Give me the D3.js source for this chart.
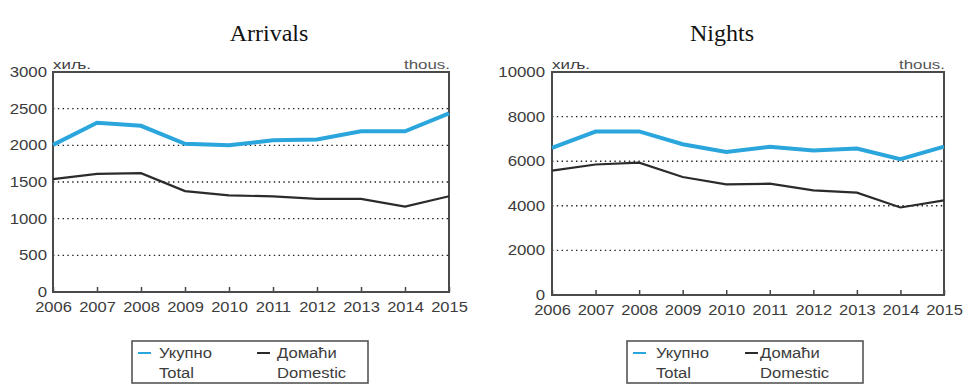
<!DOCTYPE html>
<html>
<head>
<meta charset="utf-8">
<script src="https://cdn.jsdelivr.net/npm/d3@7"></script>
<style>
  html, body { margin: 0; padding: 0; background: #fff; }
  svg { display: block; }
</style>
</head>
<body>
<svg id="chart" width="968" height="385"></svg>
<script>
// Tourist arrivals and overnight stays, thousands
const years = [2006, 2007, 2008, 2009, 2010, 2011, 2012, 2013, 2014, 2015];

const arrivalsTotal    = [2006, 2307, 2266, 2021, 2001, 2069, 2080, 2192, 2192, 2437];
const arrivalsDomestic = [1538, 1611, 1620, 1376, 1318, 1304, 1270, 1271, 1164, 1305];

const nightsTotal      = [6593, 7329, 7334, 6762, 6414, 6645, 6485, 6567, 6086, 6652];
const nightsDomestic   = [5577, 5853, 5935, 5293, 4961, 4990, 4689, 4587, 3925, 4242];

const arrivalsTicks = [0, 500, 1000, 1500, 2000, 2500, 3000];
const nightsTicks   = [0, 2000, 4000, 6000, 8000, 10000];

const titles = ["Arrivals", "Nights"];
const unitLeft = "хиљ.";
const unitRight = "thous.";
const legendNames = [["Укупно", "Total"], ["Домаћи", "Domestic"]];

const totalColor = "#2ba6dd";
const domesticColor = "#2b2b2b";
const textColor = "#3c3c3c";
const sans = "'Liberation Sans', Arial, sans-serif";

const svg = d3.select("#chart");

// widen text horizontally by a factor, keeping its anchor
function widen(sel, factor) {
  sel.each(function () {
    const w = this.getComputedTextLength();
    d3.select(this).attr("textLength", w * factor).attr("lengthAdjust", "spacingAndGlyphs");
  });
}

function drawPanel(cfg) {
  const { left, right, top, bottom, maxY, ticks, total, domestic, title, titleX, legendX, lo } = cfg;
  const g = svg.append("g");

  const x = d3.scaleLinear().domain([years[0], years[years.length - 1]]).range([left, right]);
  const y = d3.scaleLinear().domain([0, maxY]).range([bottom, top]);

  // title
  g.append("text")
    .attr("x", titleX).attr("y", 41)
    .attr("text-anchor", "middle")
    .attr("font-family", "'Liberation Serif', 'Times New Roman', serif")
    .attr("font-size", 24)
    .attr("fill", "#111")
    .text(title);

  // dotted gridlines
  g.append("g").selectAll("line")
    .data(ticks.filter(t => t > 0 && t < maxY))
    .join("line")
    .attr("x1", left).attr("x2", right)
    .attr("y1", d => y(d)).attr("y2", d => y(d))
    .attr("stroke", "#222")
    .attr("stroke-width", 1.4)
    .attr("stroke-dasharray", "1.4,3.4");

  // y axis labels
  const yAxis = d3.axisLeft(y).tickValues(ticks).tickSize(0).tickPadding(cfg.yPad).tickFormat(d3.format("d"));
  const ya = g.append("g").attr("transform", `translate(${left},0)`).call(yAxis);
  ya.select(".domain").remove();
  ya.selectAll("text")
    .attr("font-family", sans).attr("font-size", 14)
    .attr("fill", textColor)
    .call(widen, 1.2);

  // x axis labels with small inner ticks
  const xAxis = d3.axisBottom(x).tickValues(years).tickSize(-5).tickPadding(10).tickFormat(d3.format("d"));
  const xa = g.append("g").attr("transform", `translate(0,${bottom})`).call(xAxis);
  xa.select(".domain").remove();
  xa.selectAll("line").attr("stroke", "#444").attr("stroke-width", 1.5);
  xa.selectAll("text")
    .attr("font-family", sans).attr("font-size", 14)
    .attr("fill", textColor)
    .call(widen, 1.18);

  // plot frame
  g.append("rect")
    .attr("x", left).attr("y", top)
    .attr("width", right - left).attr("height", bottom - top)
    .attr("fill", "none")
    .attr("stroke", "#4a4a4a")
    .attr("stroke-width", 2);

  // unit labels
  g.append("text")
    .attr("x", left).attr("y", top - 3)
    .attr("font-family", sans).attr("font-size", 13)
    .attr("fill", textColor).text(unitLeft)
    .call(widen, 1.3);
  g.append("text")
    .attr("x", right + 1).attr("y", top - 3)
    .attr("text-anchor", "end")
    .attr("font-family", sans).attr("font-size", 13)
    .attr("fill", "#555").text(unitRight)
    .call(widen, 1.3);

  // series
  const line = d3.line().x((d, i) => x(years[i])).y(d => y(d));
  g.append("path").datum(domestic)
    .attr("d", line).attr("fill", "none")
    .attr("stroke", domesticColor).attr("stroke-width", 2.2);
  g.append("path").datum(total)
    .attr("d", line).attr("fill", "none")
    .attr("stroke", totalColor).attr("stroke-width", 4);

  // legend
  const lg = g.append("g").attr("transform", `translate(${legendX},341)`);
  lg.append("rect").attr("x", 0).attr("y", 0).attr("width", 236).attr("height", 42)
    .attr("fill", "#fff").attr("stroke", "#555").attr("stroke-width", 1.6);
  const entries = [
    { color: totalColor, names: legendNames[0], sx: lo[0], tx: lo[1] },
    { color: domesticColor, names: legendNames[1], sx: lo[2], tx: lo[3] }
  ];
  entries.forEach(e => {
    lg.append("line").attr("x1", e.sx).attr("x2", e.sx + 13)
      .attr("y1", 12).attr("y2", 12)
      .attr("stroke", e.color).attr("stroke-width", 2);
    lg.append("text").attr("x", e.tx).attr("y", 17)
      .attr("font-family", sans).attr("font-size", 15.5)
      .attr("fill", textColor).text(e.names[0])
      .call(widen, 1.07);
    lg.append("text").attr("x", e.tx).attr("y", 37)
      .attr("font-family", sans).attr("font-size", 15.5)
      .attr("fill", textColor).text(e.names[1])
      .call(widen, 1.07);
  });
}

drawPanel({
  left: 53, right: 449, top: 72, bottom: 292, maxY: 3000, ticks: arrivalsTicks,
  total: arrivalsTotal, domestic: arrivalsDomestic, yPad: 6,
  title: titles[0], titleX: 269, legendX: 132, lo: [6, 27, 125, 145]
});

drawPanel({
  left: 552, right: 944, top: 72, bottom: 295, maxY: 10000, ticks: nightsTicks,
  total: nightsTotal, domestic: nightsDomestic, yPad: 7,
  title: titles[1], titleX: 722, legendX: 627, lo: [6, 29, 118, 133]
});
</script>
</body>
</html>
